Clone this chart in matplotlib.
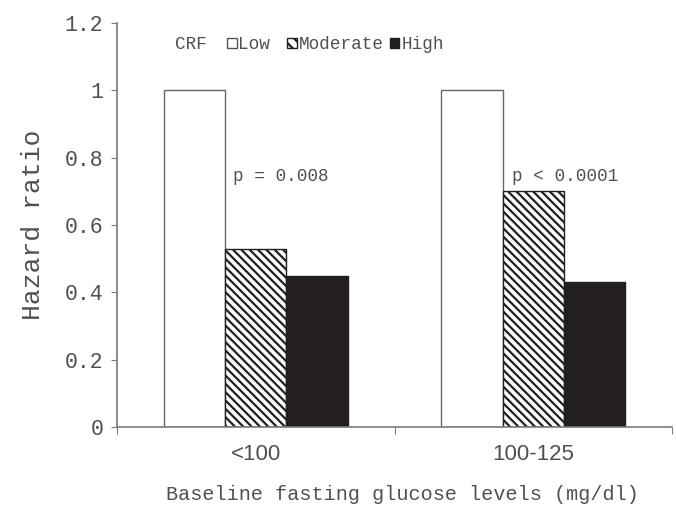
import matplotlib
matplotlib.use("Agg")
import matplotlib.pyplot as plt
from matplotlib.patches import Patch
import numpy as np

categories = ["<100", "100-125"]
series_names = ["Low", "Moderate", "High"]
low = [1.0, 1.0]
moderate = [0.53, 0.70]
high = [0.45, 0.43]
p_labels = ["p = 0.008", "p < 0.0001"]
yticks = [0, 0.2, 0.4, 0.6, 0.8, 1.0, 1.2]
ytick_labels = ["0", "0.2", "0.4", "0.6", "0.8", "1", "1.2"]

plt.rcParams['hatch.linewidth'] = 1.6
mono = "Liberation Mono"
sans = "Liberation Sans"
tc = "#505050"
sc = "#7a7a7a"
dark = "#231f20"

fig = plt.figure(figsize=(6.76, 5.09), dpi=100)
ax = fig.add_axes([0.1731, 0.1611, 0.8210, 0.7937])

x = np.arange(len(categories))
w = 0.221
ax.bar(x - w, low, w, color="white", edgecolor="#666666", linewidth=1.0)
ax.bar(x, moderate, w, color="white", edgecolor=dark, hatch="\\\\\\\\", linewidth=1.0)
ax.bar(x + w, high, w, color=dark, edgecolor=dark, linewidth=1.0)

ax.set_xlim(-0.5, 1.5)
ax.set_ylim(0, 1.2)
ax.set_yticks(yticks)
ax.set_yticklabels(ytick_labels, fontfamily=mono, fontsize=15.5, color=tc)
ax.set_xticks([-0.5, 0.5, 1.5])
ax.set_xticklabels([])
ax.set_xticks(x, minor=True)
ax.set_xticklabels(categories, minor=True, fontfamily=sans, fontsize=16, color=tc)
ax.tick_params(axis="x", which="minor", length=0, pad=12)
ax.tick_params(axis="x", which="major", length=5, color=sc, direction="out")
ax.tick_params(axis="y", length=4, color=sc, direction="out", pad=6)

for s in ["top", "right"]:
    ax.spines[s].set_visible(False)
for s in ["left", "bottom"]:
    ax.spines[s].set_color(sc)
    ax.spines[s].set_linewidth(1.2)

ax.set_ylabel("Hazard ratio", fontfamily=mono, fontsize=19, color=tc, labelpad=14)
ax.set_xlabel("Baseline fasting glucose levels (mg/dl)", fontfamily=mono, fontsize=14.5,
              color=tc)
ax.xaxis.set_label_coords(0.515, -0.143)

# p-value annotations
ax.text(x[0] - 0.082, 0.745, p_labels[0], fontfamily=mono, fontsize=12.7, color=tc,
        ha="left", va="center")
ax.text(x[1] - 0.075, 0.745, p_labels[1], fontfamily=mono, fontsize=12.7, color=tc,
        ha="left", va="center")

# legend
ax.text(0.104, 0.946, "CRF", transform=ax.transAxes, fontfamily=mono, fontsize=12.7,
        color=tc, ha="left", va="center")
handles = [
    Patch(facecolor="white", edgecolor="#555555", linewidth=1.0, label=series_names[0] + " "),
    Patch(facecolor="white", edgecolor=dark, hatch="\\\\\\", linewidth=1.0, label=series_names[1]),
    Patch(facecolor=dark, edgecolor=dark, label=series_names[2]),
]
leg = ax.legend(handles=handles, ncol=3, loc="center left", bbox_to_anchor=(0.198, 0.946),
                frameon=False, handlelength=0.55, handleheight=0.55, handletextpad=0.1,
                columnspacing=0.35, borderpad=0, borderaxespad=0,
                prop={"family": mono, "size": 12.7})
for t in leg.get_texts():
    t.set_color(tc)

fig.savefig("out.png", dpi=100, facecolor="white")
